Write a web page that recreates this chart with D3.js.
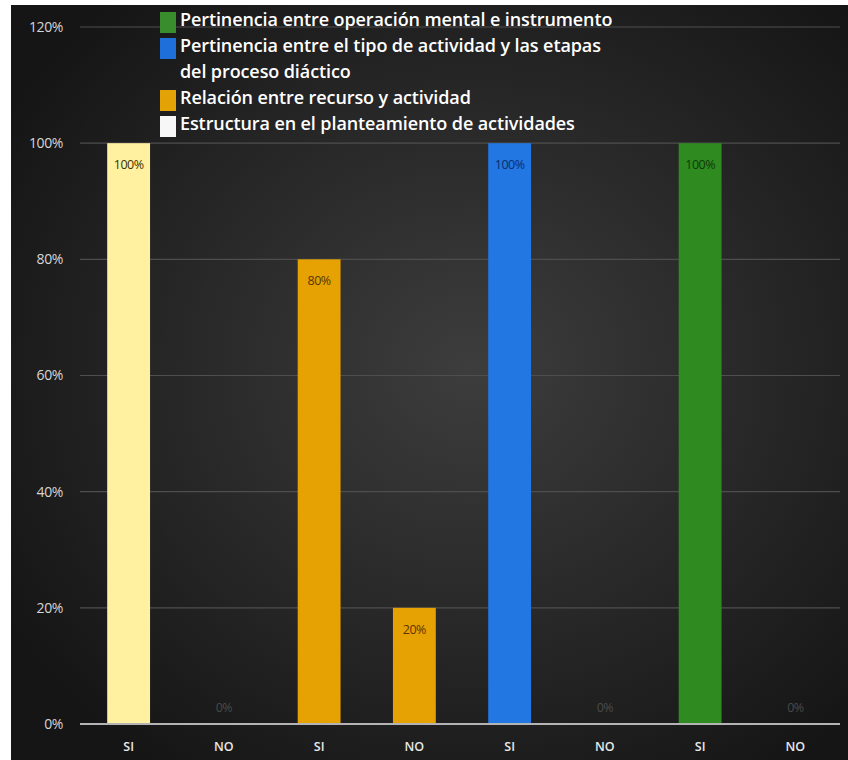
<!DOCTYPE html>
<html>
<head>
<meta charset="utf-8">
<script src="https://cdn.jsdelivr.net/npm/d3@7"></script>
<style>
  body { margin: 0; background: #fff; }
  text { font-family: "Open Sans", sans-serif; }
</style>
</head>
<body>
<div id="chart"></div>
<script>
// Data
let categories = ["SI", "NO", "SI", "NO", "SI", "NO", "SI", "NO"];
let values = [100, 0, 80, 20, 100, 0, 100, 0];
let groups = ["Estructura en el planteamiento de actividades",
  "Relación entre recurso y actividad",
  "Pertinencia entre el tipo de actividad y las etapas del proceso diáctico",
  "Pertinencia entre operación mental e instrumento"];
let groupOfBar = [0, 0, 1, 1, 2, 2, 3, 3];
let yTicks = [0, 20, 40, 60, 80, 100, 120];

let barColors = ["#fff1a0", "#e6a203", "#2277e2", "#2f8a1f"];
let labelColors = ["#3a3200", "#5a3500", "#0b2c70", "#0e3a0a"];
let legendColors = ["#f7f7f7", "#e3a306", "#1f6fda", "#3a8d2c"];

// Legend lines, top to bottom (group index, text lines)
let legendItems = [
  { g: 3, lines: ["Pertinencia entre operación mental e instrumento"] },
  { g: 2, lines: ["Pertinencia entre el tipo de actividad y las etapas", "del proceso diáctico"] },
  { g: 1, lines: ["Relación entre recurso y actividad"] },
  { g: 0, lines: ["Estructura en el planteamiento de actividades"] }
];

let W = 848, H = 760;

let svg = d3.select("#chart")
  .append("svg")
  .attr("width", W)
  .attr("height", H);

// Dark radial background
let grad = svg.append("defs").append("radialGradient")
  .attr("id", "bg")
  .attr("cx", "55%").attr("cy", "48%").attr("r", "65%");
grad.append("stop").attr("offset", "0%").attr("stop-color", "#3d3d3d");
grad.append("stop").attr("offset", "100%").attr("stop-color", "#151515");

svg.append("rect")
  .attr("x", 11).attr("y", 5)
  .attr("width", W - 11).attr("height", H - 5)
  .attr("fill", "url(#bg)");

// Scales
let xScale = d3.scaleBand()
  .domain(d3.range(categories.length))
  .range([81, 843])
  .paddingInner(0.55)
  .paddingOuter(0.275);

let yScale = d3.scaleLinear()
  .domain([0, 120])
  .range([724, 27]);

// Gridlines
svg.append("g")
  .selectAll("line")
  .data(yTicks.filter(d => d > 0))
  .enter().append("line")
  .attr("x1", 80).attr("x2", 840)
  .attr("y1", d => yScale(d)).attr("y2", d => yScale(d))
  .attr("stroke", "#4e4e4e")
  .attr("stroke-width", 1.2);

// Y axis labels
let yAxis = svg.append("g")
  .attr("transform", "translate(67,0)")
  .call(d3.axisLeft(yScale).tickValues(yTicks).tickSize(0).tickPadding(4).tickFormat(d => d + "%"));
yAxis.select(".domain").remove();
yAxis.selectAll("text")
  .attr("fill", "#d6d6d6")
  .style("font-size", "14px")
  .style("letter-spacing", "-0.4px")
  .style("font-family", "Open Sans, sans-serif");

// Bars
svg.selectAll(".bar")
  .data(values)
  .enter().append("rect")
  .attr("class", "bar")
  .attr("x", (d, i) => xScale(i))
  .attr("width", xScale.bandwidth())
  .attr("y", d => yScale(d))
  .attr("height", d => yScale(0) - yScale(d))
  .attr("fill", (d, i) => barColors[groupOfBar[i]]);

// Value labels
svg.selectAll("text.val")
  .data(values)
  .enter().append("text")
  .attr("class", "val")
  .attr("text-anchor", "middle")
  .attr("x", (d, i) => xScale(i) + xScale.bandwidth() / 2)
  .attr("y", d => d > 0 ? yScale(d) + 26 : yScale(d) - 12)
  .attr("fill", (d, i) => d > 0 ? labelColors[groupOfBar[i]] : "#4a4a4a")
  .style("font-size", "12.5px")
  .style("letter-spacing", "-0.5px")
  .text(d => d + "%");

// X axis line and labels
svg.append("line")
  .attr("x1", 80).attr("x2", 840)
  .attr("y1", yScale(0)).attr("y2", yScale(0))
  .attr("stroke", "#b4b4b4")
  .attr("stroke-width", 2);

let xAxis = svg.append("g")
  .attr("transform", "translate(0," + yScale(0) + ")")
  .call(d3.axisBottom(xScale).tickSize(0).tickPadding(18).tickFormat(i => categories[i]));
xAxis.select(".domain").remove();
xAxis.selectAll("text")
  .attr("fill", "#e8e8e8")
  .style("font-size", "12.5px")
  .style("font-weight", "600")
  .style("font-family", "Open Sans, sans-serif");

// Legend
let legend = svg.append("g").attr("transform", "translate(160,0)");
let lineY = 26;
legendItems.forEach(function(item) {
  legend.append("rect")
    .attr("x", 0).attr("y", lineY - 14)
    .attr("width", 16).attr("height", 21)
    .attr("fill", legendColors[item.g]);
  item.lines.forEach(function(t) {
    legend.append("text")
      .attr("x", 20).attr("y", lineY)
      .attr("fill", "#ffffff")
      .style("font-size", "18px")
      .style("font-weight", "600")
      .style("letter-spacing", "-0.1px")
      .text(t);
    lineY += 26;
  });
});
</script>
</body>
</html>
